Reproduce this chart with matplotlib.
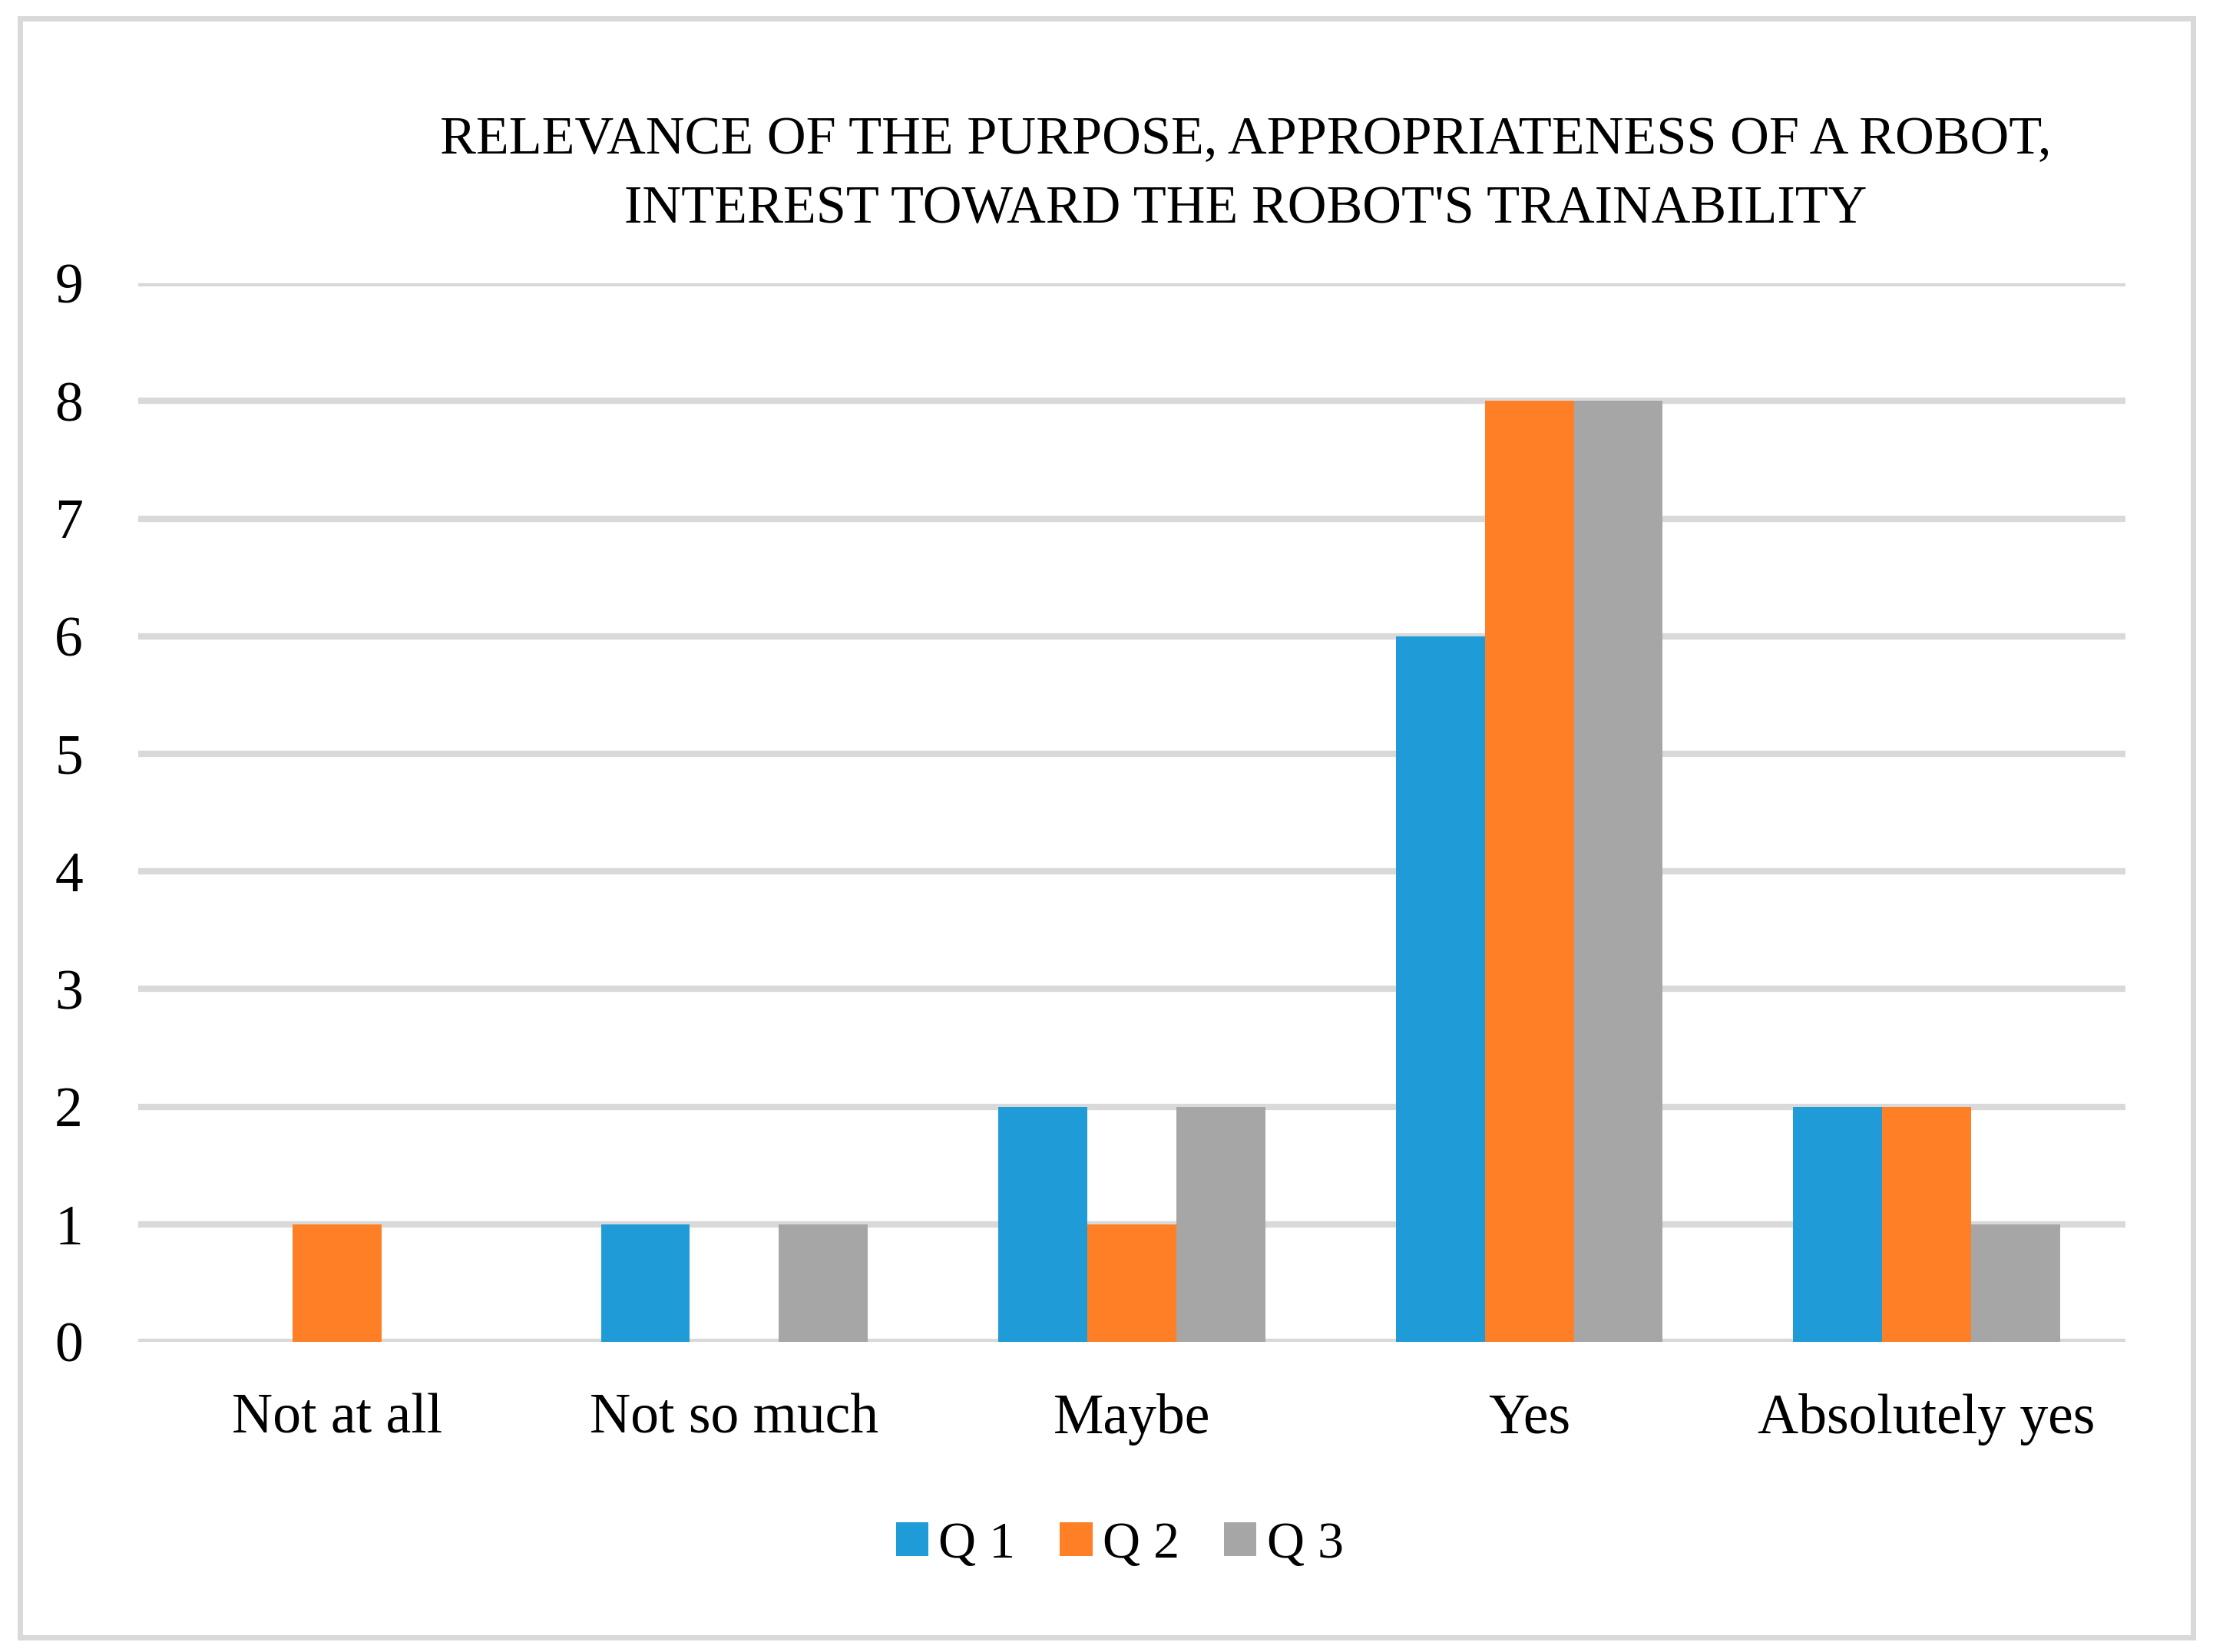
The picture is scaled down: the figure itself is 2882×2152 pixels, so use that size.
import numpy as np
import matplotlib
matplotlib.use('Agg')
from matplotlib import pyplot as plt
from matplotlib.patches import Rectangle

categories = ['Not at all', 'Not so much', 'Maybe', 'Yes', 'Absolutely yes']
series_names = ['Q 1', 'Q 2', 'Q 3']
q1 = [0, 1, 2, 6, 2]
q2 = [1, 0, 1, 8, 2]
q3 = [0, 1, 2, 8, 1]
colors = ['#1F9CD8', '#FF7F27', '#A6A6A6']
title = "RELEVANCE OF THE PURPOSE, APPROPRIATENESS OF A ROBOT,\nINTEREST TOWARD THE ROBOT'S TRAINABILITY"

plt.rcParams['font.family'] = ['Liberation Serif', 'DejaVu Serif']

fig = plt.figure(figsize=(14.41, 10.76), dpi=200)
ax = fig.add_axes([0.0625, 0.1877, 0.8979, 0.6408])

x = np.arange(len(categories))
w = 0.224
for i, vals in enumerate([q1, q2, q3]):
    ax.bar(x + (i - 1) * w, vals, w, color=colors[i], label=series_names[i], zorder=3)

ax.set_xlim(-0.5, len(categories) - 0.5)
ax.set_ylim(0, 9)
ax.set_yticks(range(10))
ax.grid(axis='y', color='#D9D9D9', linewidth=3, zorder=0)
ax.set_xticks(x)
ax.set_xticklabels(categories)
ax.tick_params(axis='both', length=0, labelsize=26.5)
ax.tick_params(axis='x', pad=24)
ax.tick_params(axis='y', pad=26)
for s in ax.spines.values():
    s.set_visible(False)

fig.text(0.563, 0.894, title, ha='center', va='center', fontsize=25.3, linespacing=1.55)

fig.legend(loc='center', bbox_to_anchor=(0.506, 0.065), ncol=3, frameon=False,
           fontsize=24.5, handlelength=0.62, handleheight=0.62, handletextpad=0.2,
           columnspacing=0.85)

fig.patches.append(Rectangle((0.009, 0.009), 0.982, 0.98, transform=fig.transFigure,
                             fill=False, edgecolor='#D9D9D9', linewidth=2.5))

fig.savefig('out.png', dpi=200)
